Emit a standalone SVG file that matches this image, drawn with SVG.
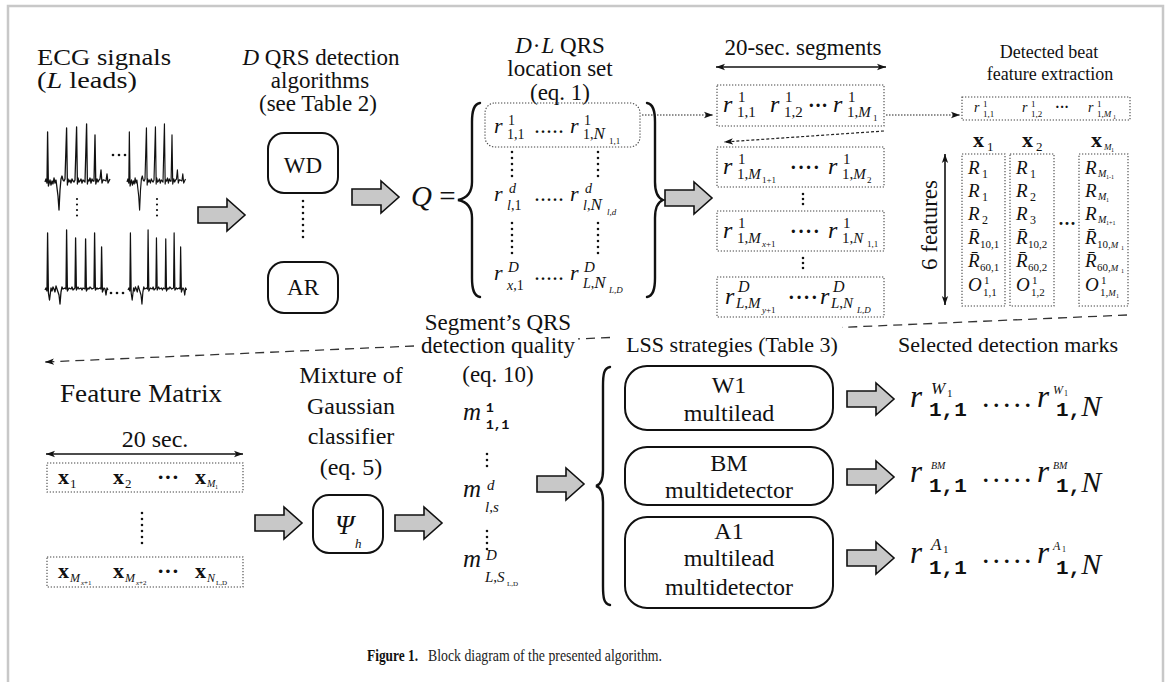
<svg xmlns="http://www.w3.org/2000/svg" width="1167" height="682" viewBox="0 0 1167 682" font-family="'Liberation Serif','DejaVu Serif',serif">
<defs>
<style>
text{font-family:"Liberation Serif","DejaVu Serif",serif;fill:#111;}
.i{font-style:italic;}
.b{font-weight:bold;}
.c{text-anchor:middle;}
.tt{font-family:"Liberation Mono","DejaVu Sans Mono",monospace;font-weight:bold;}
.rb{fill:#fff;stroke:#111;stroke-width:2;}
.db{fill:none;stroke:#444;stroke-width:1.1;stroke-dasharray:1.3 1.7;}
.vd{fill:none;stroke:#111;stroke-width:2.6;stroke-linecap:round;stroke-dasharray:0 6;}
.fat{fill:#c8c8c8;stroke:#111;stroke-width:1.6;}
.ecg{fill:none;stroke:#111;stroke-width:1.3;stroke-linejoin:round;}
.br{fill:none;stroke:#111;stroke-width:2.4;stroke-linecap:round;}
.ln{fill:none;stroke:#111;stroke-width:1.6;}
.dl{fill:none;stroke:#222;stroke-width:1.1;stroke-dasharray:1.5 1.5;}
.dd{fill:none;stroke:#222;stroke-width:1.2;stroke-dasharray:3 2;}
.dash{fill:none;stroke:#333;stroke-width:1.3;stroke-dasharray:9 6;}
.dt{fill:#111;}
</style>
<marker id="ah" markerUnits="userSpaceOnUse" viewBox="0 0 10 10" refX="10" refY="5" markerWidth="9" markerHeight="9" orient="auto-start-reverse"><path d="M0,1.5 L10,5 L0,8.5 L2.5,5 Z" fill="#111"/></marker>
<path id="fa" d="M0,-8 H29 V-16 L47,0 L29,16 V8 H0 Z"/>
<path id="ecgA" d="M0,0 L1,-3 L2,1 L2.6,-50 L3.4,4 L5,-2 L6,3 L7,-1 L8,2 L9,-4 L10,1 L11,-2 L12,6 L13,14 L14,28 L15,8 L16,-3 L17,-6 L18,-2 L19,-1 L20,-3 L21.6,-54 L22.4,3 L23,-3 L24,0 L25,-2 L26,1 L27,-3 L28,-1 L29,0 L30,-2 L31.6,-55 L32.4,2 L33,-4 L34,0 L35,-1 L36,-3 L37,1 L38,-2 L40,0 L41.6,-58 L42.4,2 L43,-2 L44,-1 L45,-4 L46,1 L47,-3 L48,-1 L49,-1 L50,-47 L50.8,2 L52,-3 L53,0 L54,-2 L55,-3 L56,-12 L57,1 L58,-2 L59,-2 L61,-1 L62,-8 L63,1 L64,-1 L65,-3"/>
<path id="ecgB" d="M0,0 L1,-2 L2,1 L2.6,-57 L3.4,3 L4.5,10 L6,-2 L7,1 L8,-3 L9,-1 L10,2 L11,-4 L12,-1 L13,2 L14,5 L15,14 L16,2 L17,-3 L18,-1 L20,-2 L21,-1 L21.6,-60 L22.4,1 L24,-2 L26,-1 L27,-3 L28,0 L30,-2 L30.6,-52 L31.4,0 L33,-3 L34,-1 L36,-2 L37,0 L38,-2 L40,-1 L40.6,-51 L41.4,1 L43,-2 L44,-1 L45,-3 L47,-1 L49,-2 L49.6,-57 L50.4,0 L52,-2 L53,-1 L55,-2 L56,-1 L56.6,-43 L57.4,2 L59,-2 L60,-1 L61,5 L62,-2 L63,0"/>
</defs>
<rect width="1167" height="682" fill="#fff"/>
<path d="M8,682 V6 H1163 V682" fill="none" stroke="#c8c8c8" stroke-width="2.5"/>

<!-- connectors -->
<g id="connectors">
<use href="#fa" class="fat" transform="translate(198,215)"/>
<use href="#fa" class="fat" transform="translate(352,197)"/>
<use href="#fa" class="fat" transform="translate(665,198)"/>
<use href="#fa" class="fat" transform="translate(255,523)"/>
<use href="#fa" class="fat" transform="translate(395,523)"/>
<use href="#fa" class="fat" transform="translate(537,484)"/>
<use href="#fa" class="fat" transform="translate(847,399)"/>
<use href="#fa" class="fat" transform="translate(847,477)"/>
<use href="#fa" class="fat" transform="translate(847,558)"/>
<path class="dl" d="M642,115 H713" marker-end="url(#ah)"/>
<path class="dl" d="M886,115 H960" marker-end="url(#ah)"/>
<path class="dd" d="M884,131 L724,142" marker-end="url(#ah)"/>
<path class="dash" d="M1127,315 L842,327.4 M610,337.5 L578,338.9 M414,346 L45,362" marker-end="url(#ah)"/>
<path class="ln" d="M716,67 H886" marker-start="url(#ah)" marker-end="url(#ah)"/>
<path class="ln" d="M945,154 V305" marker-start="url(#ah)" marker-end="url(#ah)"/>
<path class="ln" d="M46,454 H243" marker-start="url(#ah)" marker-end="url(#ah)"/>
</g>

<!-- ECG signals -->
<g id="n-ecg">
<text x="37" y="65" font-size="23" textLength="134" lengthAdjust="spacingAndGlyphs">ECG signals</text>
<text x="37" y="88" font-size="23" textLength="100" lengthAdjust="spacingAndGlyphs">(<tspan class="i">L</tspan> leads)</text>
<use href="#ecgA" class="ecg" transform="translate(45,182)"/>
<use href="#ecgA" class="ecg" transform="translate(127,182) scale(0.9,1)"/>
<use href="#ecgB" class="ecg" transform="translate(45,290)"/>
<use href="#ecgB" class="ecg" transform="translate(128,290) scale(0.93,1)"/>
<circle class="dt" cx="113" cy="155" r="1.3"/><circle class="dt" cx="119" cy="155" r="1.3"/><circle class="dt" cx="125" cy="155" r="1.3"/>
<circle class="dt" cx="111" cy="293" r="1.3"/><circle class="dt" cx="117" cy="293" r="1.3"/><circle class="dt" cx="123" cy="293" r="1.3"/>
<path class="vd" d="M77,199 V221" style="stroke-width:2.2;stroke-dasharray:0 5.5"/>
<path class="vd" d="M157,199 V221" style="stroke-width:2.2;stroke-dasharray:0 5.5"/>
</g>

<!-- detectors -->
<g id="n-detectors">
<text x="321" y="65" font-size="23" class="c"><tspan class="i">D</tspan> QRS detection</text>
<text x="320" y="88" font-size="23" class="c">algorithms</text>
<text x="318" y="111" font-size="23" class="c">(see Table 2)</text>
<rect class="rb" x="268" y="133" width="70" height="60" rx="16"/>
<text x="303" y="173" font-size="23" class="c">WD</text>
<path class="vd" d="M303,201 V240"/>
<rect class="rb" x="268" y="262" width="70" height="51" rx="16"/>
<text x="303" y="295" font-size="23" class="c">AR</text>
</g>

<!-- QRS location set -->
<g id="n-qset">
<text x="560" y="53" font-size="23" class="c"><tspan class="i">D</tspan><tspan dx="1">·</tspan><tspan class="i" dx="1">L</tspan> QRS</text>
<text x="560" y="76" font-size="23" class="c">location set</text>
<text x="560" y="100" font-size="23" class="c">(eq. 1)</text>
<text x="411" y="206" font-size="29"><tspan class="i">Q</tspan> =</text>
<path class="br" d="M480,103 C474,104 472,110 472,122 V182 C472,192 468,198 458,200 C468,202 472,208 472,218 V278 C472,290 474,296 480,297"/>
<path class="br" d="M647,103 C653,104 655,110 655,122 V182 C655,192 658,198 663,200 C658,202 655,208 655,218 V278 C655,290 653,296 647,297"/>
<rect class="db" x="485" y="103" width="155" height="44" rx="10"/>
<text class="i" x="494" y="133" font-size="22">r</text>
<text x="508" y="125" font-size="14">1</text>
<text x="507" y="139" font-size="14">1,1</text>
<text x="535" y="133" font-size="16" class="b" letter-spacing="2">.....</text>
<text class="i" x="570" y="133" font-size="22">r</text>
<text x="584" y="125" font-size="14">1</text>
<text x="583" y="139" font-size="14">1,<tspan class="i" font-size="17">N</tspan></text>
<text x="609" y="144" font-size="9">1,1</text>
<path class="vd" d="M512,152 V182"/>
<path class="vd" d="M598,152 V182"/>
<text class="i" x="494" y="201" font-size="22">r</text>
<text class="i" x="509" y="193" font-size="14">d</text>
<text x="507" y="210" font-size="14"><tspan class="i">l</tspan>,1</text>
<text x="535" y="201" font-size="16" class="b" letter-spacing="2">.....</text>
<text class="i" x="570" y="201" font-size="22">r</text>
<text class="i" x="585" y="193" font-size="14">d</text>
<text x="583" y="210" font-size="14"><tspan class="i">l</tspan>,<tspan class="i" font-size="17">N</tspan></text>
<text class="i" x="607" y="215" font-size="9">l,d</text>
<path class="vd" d="M512,223 V254"/>
<path class="vd" d="M598,223 V254"/>
<text class="i" x="494" y="280" font-size="22">r</text>
<text class="i" x="508" y="272" font-size="15">D</text>
<text x="507" y="290" font-size="14"><tspan class="i">x</tspan>,1</text>
<text x="535" y="280" font-size="16" class="b" letter-spacing="2">.....</text>
<text class="i" x="570" y="280" font-size="22">r</text>
<text class="i" x="584" y="272" font-size="15">D</text>
<text x="583" y="288" font-size="14"><tspan class="i">L</tspan>,<tspan class="i" font-size="17">N</tspan></text>
<text class="i" x="609" y="293" font-size="9">L,D</text>
</g>

<!-- 20-sec segments -->
<g id="n-segments">
<text x="803" y="55" font-size="23" class="c">20-sec. segments</text>
<rect class="db" x="717" y="85" width="167" height="41"/>
<text class="i" x="723" y="112" font-size="24">r</text>
<text x="738" y="102" font-size="15">1</text>
<text x="737" y="117" font-size="15">1,1</text>
<text class="i" x="770" y="112" font-size="24">r</text>
<text x="785" y="102" font-size="15">1</text>
<text x="784" y="117" font-size="15">1,2</text>
<text x="808" y="112" font-size="20" class="b">···</text>
<text class="i" x="833" y="112" font-size="24">r</text>
<text x="848" y="102" font-size="15">1</text>
<text x="847" y="117" font-size="15">1,<tspan class="i">M</tspan></text>
<text x="873" y="121" font-size="9">1</text>

<rect class="db" x="717" y="147" width="167" height="40"/>
<text class="i" x="723" y="174" font-size="24">r</text>
<text x="738" y="164" font-size="15">1</text>
<text x="737" y="179" font-size="15">1,<tspan class="i">M</tspan></text>
<text x="762" y="183" font-size="9">1+1</text>
<text x="790" y="174" font-size="20" class="b" letter-spacing="1">····</text>
<text class="i" x="828" y="174" font-size="24">r</text>
<text x="843" y="164" font-size="15">1</text>
<text x="842" y="179" font-size="15">1,<tspan class="i">M</tspan></text>
<text x="867" y="183" font-size="9">2</text>
<path class="vd" d="M803,194 V209" style="stroke-dasharray:0 5"/>

<rect class="db" x="717" y="211" width="167" height="40"/>
<text class="i" x="723" y="238" font-size="24">r</text>
<text x="738" y="228" font-size="15">1</text>
<text x="737" y="243" font-size="15">1,<tspan class="i">M</tspan></text>
<text x="762" y="247" font-size="9"><tspan class="i">x</tspan>+1</text>
<text x="790" y="238" font-size="20" class="b" letter-spacing="1">····</text>
<text class="i" x="828" y="238" font-size="24">r</text>
<text x="843" y="228" font-size="15">1</text>
<text x="842" y="243" font-size="15">1,<tspan class="i">N</tspan></text>
<text x="867" y="247" font-size="9">1,1</text>
<path class="vd" d="M803,258 V273" style="stroke-dasharray:0 5"/>

<rect class="db" x="717" y="277" width="167" height="40"/>
<text class="i" x="725" y="304" font-size="24">r</text>
<text class="i" x="738" y="292" font-size="16">D</text>
<text class="i" x="736" y="308" font-size="15">L<tspan font-style="normal">,</tspan>M</text>
<text x="762" y="313" font-size="9"><tspan class="i">y</tspan>+1</text>
<text x="788" y="304" font-size="20" class="b" letter-spacing="1">····</text>
<text class="i" x="820" y="304" font-size="24">r</text>
<text class="i" x="833" y="292" font-size="16">D</text>
<text class="i" x="831" y="308" font-size="15">L<tspan font-style="normal">,</tspan>N</text>
<text class="i" x="857" y="313" font-size="9">L,D</text>
</g>

<!-- feature extraction -->
<g id="n-features">
<text x="1049" y="58" font-size="18" class="c">Detected beat</text>
<text x="1050" y="80" font-size="18" class="c">feature extraction</text>
<rect class="db" x="962" y="97" width="168" height="23"/>
<text class="i" x="974" y="112" font-size="14">r</text>
<text x="983" y="107" font-size="9">1</text>
<text x="983" y="117" font-size="9">1,1</text>
<text class="i" x="1022" y="112" font-size="14">r</text>
<text x="1031" y="107" font-size="9">1</text>
<text x="1031" y="117" font-size="9">1,2</text>
<text x="1055" y="112" font-size="14" class="b">···</text>
<text class="i" x="1088" y="112" font-size="14">r</text>
<text x="1097" y="107" font-size="9">1</text>
<text x="1097" y="117" font-size="9">1,<tspan class="i">M</tspan></text>
<text x="1113" y="119" font-size="6">1</text>

<text class="b" x="973" y="147" font-size="22">x</text><text x="987" y="151" font-size="13">1</text>
<text class="b" x="1022" y="147" font-size="22">x</text><text x="1036" y="151" font-size="13">2</text>
<text class="b" x="1091" y="147" font-size="22">x</text><text class="i" x="1104" y="150" font-size="9">M</text><text x="1111" y="152" font-size="6">1</text>

<text font-size="23" class="c" transform="translate(937,225) rotate(-90)">6 features</text>

<rect class="db" x="962" y="154" width="43" height="152"/>
<rect class="db" x="1010" y="154" width="44" height="152"/>
<rect class="db" x="1079" y="154" width="49" height="152"/>
<text x="1058" y="230" font-size="18" class="b">···</text>

<text class="i" x="968" y="174" font-size="19">R</text><text x="982" y="178" font-size="12">1</text>
<text class="i" x="968" y="197" font-size="19">R</text><text x="982" y="201" font-size="12">1</text>
<text class="i" x="968" y="220" font-size="19">R</text><text x="982" y="224" font-size="12">2</text>
<text class="i" x="968" y="244" font-size="19">R̄</text><text x="980" y="248" font-size="11">10,1</text>
<text class="i" x="968" y="267" font-size="19">R̄</text><text x="980" y="271" font-size="11">60,1</text>
<text class="i" x="968" y="291" font-size="19">O</text><text x="984" y="284" font-size="11">1</text><text x="983" y="296" font-size="11">1,1</text>

<text class="i" x="1016" y="174" font-size="19">R</text><text x="1030" y="178" font-size="12">1</text>
<text class="i" x="1016" y="197" font-size="19">R</text><text x="1030" y="201" font-size="12">2</text>
<text class="i" x="1016" y="220" font-size="19">R</text><text x="1030" y="224" font-size="12">3</text>
<text class="i" x="1016" y="244" font-size="19">R̄</text><text x="1028" y="248" font-size="11">10,2</text>
<text class="i" x="1016" y="267" font-size="19">R̄</text><text x="1028" y="271" font-size="11">60,2</text>
<text class="i" x="1016" y="291" font-size="19">O</text><text x="1032" y="284" font-size="11">1</text><text x="1031" y="296" font-size="11">1,2</text>

<text class="i" x="1085" y="174" font-size="19">R</text><text class="i" x="1098" y="177" font-size="10">M</text><text x="1106" y="179" font-size="6">1-1</text>
<text class="i" x="1085" y="197" font-size="19">R</text><text class="i" x="1098" y="200" font-size="10">M</text><text x="1106" y="202" font-size="6">1</text>
<text class="i" x="1085" y="220" font-size="19">R</text><text class="i" x="1098" y="223" font-size="10">M</text><text x="1106" y="225" font-size="6">1+1</text>
<text class="i" x="1085" y="244" font-size="19">R̄</text><text x="1097" y="248" font-size="11">10,<tspan class="i" font-size="9">M</tspan></text><text x="1121" y="250" font-size="6">1</text>
<text class="i" x="1085" y="267" font-size="19">R̄</text><text x="1097" y="271" font-size="11">60,<tspan class="i" font-size="9">M</tspan></text><text x="1121" y="273" font-size="6">1</text>
<text class="i" x="1085" y="291" font-size="19">O</text><text x="1101" y="284" font-size="11">1</text><text x="1100" y="296" font-size="11">1,<tspan class="i" font-size="9">M</tspan></text><text x="1116" y="298" font-size="6">1</text>
</g>

<!-- feature matrix -->
<g id="n-matrix">
<text x="60" y="402" font-size="25" textLength="162" lengthAdjust="spacingAndGlyphs">Feature Matrix</text>
<text x="155" y="447" font-size="24" class="c">20 sec.</text>
<rect class="db" x="47" y="463" width="196" height="29"/>
<text class="b" x="58" y="484" font-size="22">x</text><text x="70" y="488" font-size="13">1</text>
<text class="b" x="113" y="484" font-size="22">x</text><text x="125" y="488" font-size="13">2</text>
<text x="157" y="484" font-size="22" class="b">···</text>
<text class="b" x="195" y="484" font-size="22">x</text><text class="i" x="207" y="487" font-size="10">M</text><text x="215" y="489" font-size="6">1</text>
<path class="vd" d="M142,513 V546"/>
<rect class="db" x="47" y="557" width="196" height="30"/>
<text class="b" x="58" y="578" font-size="22">x</text><text class="i" x="70" y="582" font-size="12">M</text><text x="81" y="585" font-size="7"><tspan class="i">x</tspan>+1</text>
<text class="b" x="113" y="578" font-size="22">x</text><text class="i" x="125" y="582" font-size="12">M</text><text x="136" y="585" font-size="7"><tspan class="i">x</tspan>+2</text>
<text x="157" y="578" font-size="22" class="b">···</text>
<text class="b" x="195" y="578" font-size="22">x</text><text class="i" x="207" y="582" font-size="12">N</text><text x="216" y="585" font-size="7">L,D</text>
</g>

<!-- classifier -->
<g id="n-classifier">
<text x="351" y="383" font-size="24" class="c">Mixture of</text>
<text x="351" y="414" font-size="24" class="c">Gaussian</text>
<text x="351" y="444" font-size="24" class="c">classifier</text>
<text x="351" y="475" font-size="24" class="c">(eq. 5)</text>
<rect class="rb" x="313" y="495" width="70" height="58" rx="16"/>
<text class="i" x="335" y="534" font-size="27">Ψ</text>
<text class="i" x="355" y="548" font-size="13">h</text>
</g>

<!-- quality -->
<g id="n-quality">
<text x="498" y="330" font-size="23" class="c">Segment’s QRS</text>
<text x="498" y="353" font-size="23" class="c">detection quality</text>
<text x="498" y="382" font-size="23" class="c">(eq. 10)</text>
<text class="i" x="463" y="420" font-size="25">m</text>
<text class="tt" x="486" y="412" font-size="13">1</text>
<text class="tt" x="486" y="429" font-size="13">1,1</text>
<path class="vd" d="M487,454 V471"/>
<text class="i" x="463" y="497" font-size="25">m</text>
<text class="i" x="487" y="490" font-size="15">d</text>
<text class="i" x="485" y="512" font-size="15">l<tspan font-style="normal">,</tspan>s</text>
<path class="vd" d="M487,531 V550"/>
<text class="i" x="463" y="567" font-size="25">m</text>
<text class="i" x="486" y="560" font-size="15">D</text>
<text class="i" x="485" y="582" font-size="15">L<tspan font-style="normal">,</tspan>S</text>
<text x="507" y="586" font-size="7">L,D</text>
</g>

<!-- LSS strategies -->
<g id="n-lss">
<text x="732" y="352" font-size="22" class="c">LSS strategies (Table 3)</text>
<path class="br" d="M610,367 C604,368 603,374 603,386 V470 C603,480 600,485 596,486 C600,487 603,492 603,502 V586 C603,598 604,604 610,605"/>
<rect class="rb" x="625" y="366" width="208" height="64" rx="22"/>
<text x="729" y="393" font-size="24" class="c">W1</text>
<text x="729" y="421" font-size="24" class="c">multilead</text>
<rect class="rb" x="625" y="447" width="208" height="58" rx="22"/>
<text x="729" y="471" font-size="24" class="c">BM</text>
<text x="729" y="498" font-size="24" class="c">multidetector</text>
<rect class="rb" x="625" y="517" width="208" height="91" rx="22"/>
<text x="729" y="539" font-size="24" class="c">A1</text>
<text x="729" y="566" font-size="24" class="c">multilead</text>
<text x="729" y="595" font-size="24" class="c">multidetector</text>
</g>

<!-- selected marks -->
<g id="n-marks">
<text x="1008" y="352" font-size="22" class="c">Selected detection marks</text>
<text class="i" x="910" y="407" font-size="31">r</text>
<text class="i" x="931" y="394" font-size="17">W</text><text x="947" y="397" font-size="11">1</text>
<text class="tt" x="929" y="416" font-size="21">1,1</text>
<text x="983" y="407" font-size="22" class="b" letter-spacing="5">.....</text>
<text class="i" x="1037" y="407" font-size="31">r</text>
<text class="i" x="1053" y="394" font-size="12">W</text><text x="1064" y="396" font-size="8">1</text>
<text x="1056" y="416" font-size="21"><tspan class="tt">1,</tspan><tspan class="i" font-size="30">N</tspan></text>

<text class="i" x="910" y="482" font-size="31">r</text>
<text class="i" x="931" y="469" font-size="10">BM</text>
<text class="tt" x="929" y="492" font-size="21">1,1</text>
<text x="983" y="482" font-size="22" class="b" letter-spacing="5">.....</text>
<text class="i" x="1037" y="482" font-size="31">r</text>
<text class="i" x="1053" y="469" font-size="10">BM</text>
<text x="1056" y="492" font-size="21"><tspan class="tt">1,</tspan><tspan class="i" font-size="30">N</tspan></text>

<text class="i" x="910" y="563" font-size="31">r</text>
<text class="i" x="931" y="550" font-size="17">A</text><text x="943" y="553" font-size="11">1</text>
<text class="tt" x="929" y="574" font-size="21">1,1</text>
<text x="983" y="563" font-size="22" class="b" letter-spacing="5">.....</text>
<text class="i" x="1037" y="563" font-size="31">r</text>
<text class="i" x="1053" y="550" font-size="12">A</text><text x="1062" y="552" font-size="8">1</text>
<text x="1056" y="574" font-size="21"><tspan class="tt">1,</tspan><tspan class="i" font-size="30">N</tspan></text>
</g>

<!-- caption -->
<g id="caption">
<text x="367" y="661" font-size="17" font-weight="bold" textLength="51" lengthAdjust="spacingAndGlyphs">Figure 1.</text>
<text x="428" y="661" font-size="17" textLength="234" lengthAdjust="spacingAndGlyphs" style="fill:#222">Block diagram of the presented algorithm.</text>
</g>
</svg>
